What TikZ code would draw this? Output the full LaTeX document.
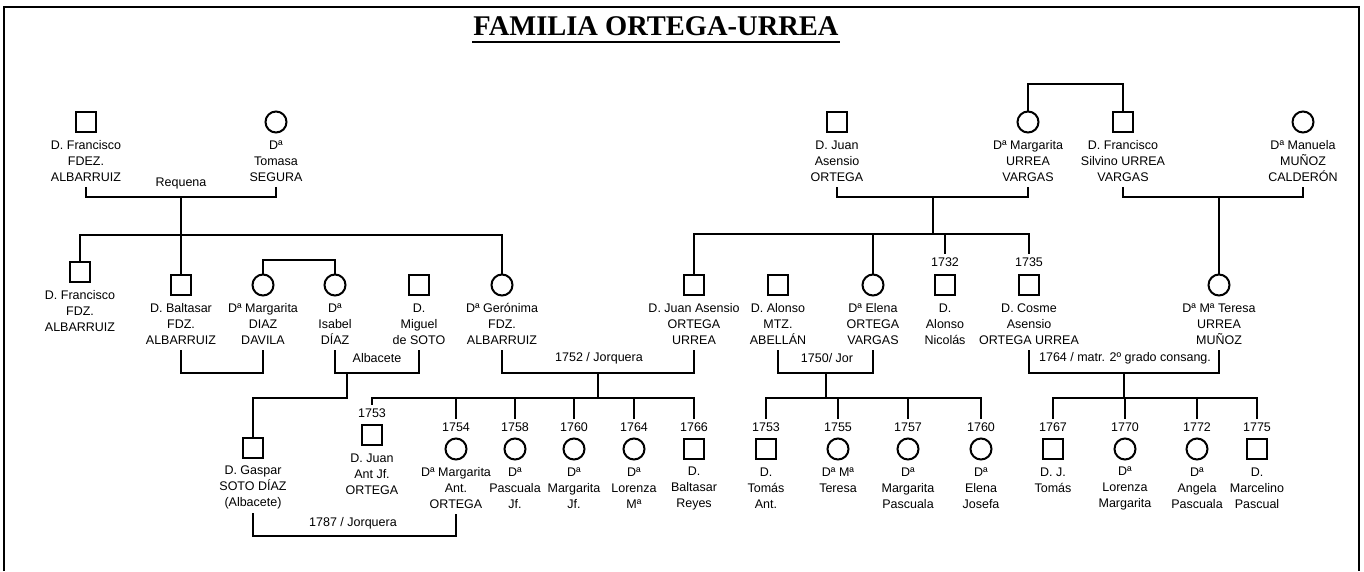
\documentclass[tikz,border=0pt]{standalone}
\usepackage{fontspec}
\usepackage{tikz}
\newfontfamily\arialfont{Liberation Sans}
\newfontfamily\timesfont{Liberation Serif}

\begin{document}
\begin{tikzpicture}[x=1pt,y=-1pt,line width=2pt,
		every node/.style={font=\arialfont\fontsize{12.5}{16}\selectfont,inner sep=0pt},
		man/.style={draw,rectangle,minimum size=20pt},
		woman/.style={draw,circle,minimum size=21pt},
		pname/.style={anchor=north,align=center,minimum height=50pt},
		pyear/.style={inner sep=3pt}]
		\useasboundingbox (0,0) rectangle (1364,571);
		\draw (4,571) -- (4,7) -- (1359,7) -- (1359,571);
		\node[font=\timesfont\bfseries\fontsize{28.5}{32}\selectfont,anchor=base] (title) at (656,35) {FAMILIA ORTEGA-URREA};
		\draw[line width=2.5pt] ([yshift=-7pt]title.base west) -- ([yshift=-7pt]title.base east);
		
		\node[man] (francisco) at (86,122) {};
		\node[pname] (franciscoT) at (86,135) {D. Francisco\\FDEZ.\\ALBARRUIZ};
		\node[woman] (tomasa) at (276,122) {};
		\node[pname] (tomasaT) at (276,135) {Dª\\Tomasa\\SEGURA};
		\node[man] (juan) at (837,122) {};
		\node[pname] (juanT) at (837,135) {D. Juan\\Asensio\\ORTEGA};
		\node[woman] (margaritaU) at (1028,122) {};
		\node[pname] (margaritaUT) at (1028,135) {Dª Margarita\\URREA\\VARGAS};
		\node[man] (silvino) at (1123,122) {};
		\node[pname] (silvinoT) at (1123,135) {D. Francisco\\Silvino URREA\\VARGAS};
		\node[woman] (manuela) at (1303,122) {};
		\node[pname] (manuelaT) at (1303,135) {Dª Manuela\\MUÑOZ\\CALDERÓN};
		
		\node[man] (franciscoF) at (80,272) {};
		\node[pname] (franciscoFT) at (80,285) {D. Francisco\\FDZ.\\ALBARRUIZ};
		\node[man] (baltasar) at (181,285) {};
		\node[pname] (baltasarT) at (181,298) {D. Baltasar\\FDZ.\\ALBARRUIZ};
		\node[woman] (margaritaD) at (263,285) {};
		\node[pname] (margaritaDT) at (263,298) {Dª Margarita\\DIAZ\\DAVILA};
		\node[woman] (isabel) at (335,285) {};
		\node[pname] (isabelT) at (335,298) {Dª\\Isabel\\DÍAZ};
		\node[man] (miguel) at (419,285) {};
		\node[pname] (miguelT) at (419,298) {D.\\Miguel\\de SOTO};
		\node[woman] (geronima) at (502,285) {};
		\node[pname] (geronimaT) at (502,298) {Dª Gerónima\\FDZ.\\ALBARRUIZ};
		\node[man] (juanAU) at (694,285) {};
		\node[pname] (juanAUT) at (694,298) {D. Juan Asensio\\ORTEGA\\URREA};
		\node[man] (alonso) at (778,285) {};
		\node[pname] (alonsoT) at (778,298) {D. Alonso\\MTZ.\\ABELLÁN};
		\node[woman] (elena) at (873,285) {};
		\node[pname] (elenaT) at (873,298) {Dª Elena\\ORTEGA\\VARGAS};
		\node[pyear] (nicolasY) at (945,262) {1732};
		\node[man] (nicolas) at (945,285) {};
		\node[pname] (nicolasT) at (945,298) {D.\\Alonso\\Nicolás};
		\node[pyear] (cosmeY) at (1029,262) {1735};
		\node[man] (cosme) at (1029,285) {};
		\node[pname] (cosmeT) at (1029,298) {D. Cosme\\Asensio\\ORTEGA URREA};
		\node[woman] (teresa) at (1219,285) {};
		\node[pname] (teresaT) at (1219,298) {Dª Mª Teresa\\URREA\\MUÑOZ};
		
		\node[man] (gaspar) at (253,448) {};
		\node[pname] (gasparT) at (253,461) {D. Gaspar\\SOTO DÍAZ\\(Albacete)};
		\node[pyear] (juanAntY) at (372,413) {1753};
		\node[man] (juanAnt) at (372,435) {};
		\node[pname] (juanAntT) at (372,448) {D. Juan\\Ant Jf.\\ORTEGA};
		\node[pyear] (margaritaAY) at (456,427) {1754};
		\node[woman] (margaritaA) at (456,449) {};
		\node[pname] (margaritaAT) at (456,462) {Dª Margarita\\Ant.\\ORTEGA};
		\node[pyear] (pascualaY) at (515,427) {1758};
		\node[woman] (pascuala) at (515,449) {};
		\node[pname] (pascualaT) at (515,462) {Dª\\Pascuala\\Jf.};
		\node[pyear] (margaritaJY) at (574,427) {1760};
		\node[woman] (margaritaJ) at (574,449) {};
		\node[pname] (margaritaJT) at (574,462) {Dª\\Margarita\\Jf.};
		\node[pyear] (lorenzaY) at (634,427) {1764};
		\node[woman] (lorenza) at (634,449) {};
		\node[pname] (lorenzaT) at (634,462) {Dª\\Lorenza\\Mª};
		\node[pyear] (baltasarRY) at (694,427) {1766};
		\node[man] (baltasarR) at (694,449) {};
		\node[pname] (baltasarRT) at (694,462) {D.\\Baltasar\\Reyes};
		\node[pyear] (tomasY) at (766,427) {1753};
		\node[man] (tomas) at (766,449) {};
		\node[pname] (tomasT) at (766,462) {D.\\Tomás\\Ant.};
		\node[pyear] (mteresaY) at (838,427) {1755};
		\node[woman] (mteresa) at (838,449) {};
		\node[pname] (mteresaT) at (838,462) {Dª Mª\\Teresa\\{}};
		\node[pyear] (margaritaPY) at (908,427) {1757};
		\node[woman] (margaritaP) at (908,449) {};
		\node[pname] (margaritaPT) at (908,462) {Dª\\Margarita\\Pascuala};
		\node[pyear] (elenaJY) at (981,427) {1760};
		\node[woman] (elenaJ) at (981,449) {};
		\node[pname] (elenaJT) at (981,462) {Dª\\Elena\\Josefa};
		\node[pyear] (jtomasY) at (1053,427) {1767};
		\node[man] (jtomas) at (1053,449) {};
		\node[pname] (jtomasT) at (1053,462) {D. J.\\Tomás\\{}};
		\node[pyear] (lorenzaMY) at (1125,427) {1770};
		\node[woman] (lorenzaM) at (1125,449) {};
		\node[pname] (lorenzaMT) at (1125,462) {Dª\\Lorenza\\Margarita};
		\node[pyear] (angelaY) at (1197,427) {1772};
		\node[woman] (angela) at (1197,449) {};
		\node[pname] (angelaT) at (1197,462) {Dª\\Angela\\Pascuala};
		\node[pyear] (marcelinoY) at (1257,427) {1775};
		\node[man] (marcelino) at (1257,449) {};
		\node[pname] (marcelinoT) at (1257,462) {D.\\Marcelino\\Pascual};
		
		\coordinate (s0) at (1076,84);
		\draw (margaritaU.north) |- (s0) -| (silvino.north);
		
		\coordinate (m1) at (181,197);
		\coordinate (s1) at (181,235);
		\draw (franciscoT.south) |- (m1) -| (tomasaT.south);
		\node (requena) at (181,183) {Requena};
		\draw (m1) -- (s1);
		\draw (franciscoF.north) |- (s1) -| (geronima.north);
		\draw (baltasar.north) -- (s1);
		\coordinate (s1b) at (299,260);
		\draw (margaritaD.north) |- (s1b) -| (isabel.north);
		
		\coordinate (m2) at (933,197);
		\coordinate (s2) at (933,234);
		\draw (juanT.south) |- (m2) -| (margaritaUT.south);
		\draw (m2) -- (s2);
		\draw (juanAU.north) |- (s2) -| (cosmeY.north);
		\draw (elena.north) -- (elena.north |- s2);
		\draw (nicolasY.north) -- (nicolasY.north |- s2);
		
		\coordinate (m3) at (1219,197);
		\draw (silvinoT.south) |- (m3) -| (manuelaT.south);
		\draw (m3) -- (teresa.north);
		
		\coordinate (m4) at (222,373);
		\draw (baltasarT.south) |- (m4) -| (margaritaDT.south);
		
		\coordinate (m5) at (347,373);
		\coordinate (s5) at (347,398);
		\draw (isabelT.south) |- (m5) -| (miguelT.south);
		\node (albacete) at (377,358) {Albacete};
		\draw (m5) -- (s5) -| (gaspar.north);
		
		\coordinate (m6) at (598,373);
		\coordinate (s6) at (598,398);
		\draw (geronimaT.south) |- (m6) -| (juanAUT.south);
		\node (jorquera) at (599,358) {1752 / Jorquera};
		\draw (m6) -- (s6);
		\draw (juanAntY.north) |- (s6) -| (baltasarRY.north);
		\draw (margaritaAY.north) -- (margaritaAY.north |- s6);
		\draw (pascualaY.north) -- (pascualaY.north |- s6);
		\draw (margaritaJY.north) -- (margaritaJY.north |- s6);
		\draw (lorenzaY.north) -- (lorenzaY.north |- s6);
		
		\coordinate (m7) at (826,373);
		\coordinate (s7) at (826,398);
		\draw (alonsoT.south) |- (m7) -| (elenaT.south);
		\node (jor) at (827,358) {1750/ Jor};
		\draw (m7) -- (s7);
		\draw (tomasY.north) |- (s7) -| (elenaJY.north);
		\draw (mteresaY.north) -- (mteresaY.north |- s7);
		\draw (margaritaPY.north) -- (margaritaPY.north |- s7);
		
		\coordinate (m8) at (1124,373);
		\coordinate (s8) at (1124,398);
		\draw (cosmeT.south) |- (m8) -| (teresaT.south);
		\node (consang) at (1125,358) {1764 / matr. 2º grado consang.};
		\draw (m8) -- (s8);
		\draw (jtomasY.north) |- (s8) -| (marcelinoY.north);
		\draw (lorenzaMY.north) -- (lorenzaMY.north |- s8);
		\draw (angelaY.north) -- (angelaY.north |- s8);
		
		\coordinate (m9) at (354,536);
		\draw (gasparT.south) |- (m9) -| (margaritaAT.south);
		\node (jorquera2) at (353,523) {1787 / Jorquera};
	\end{tikzpicture}
\end{document}
